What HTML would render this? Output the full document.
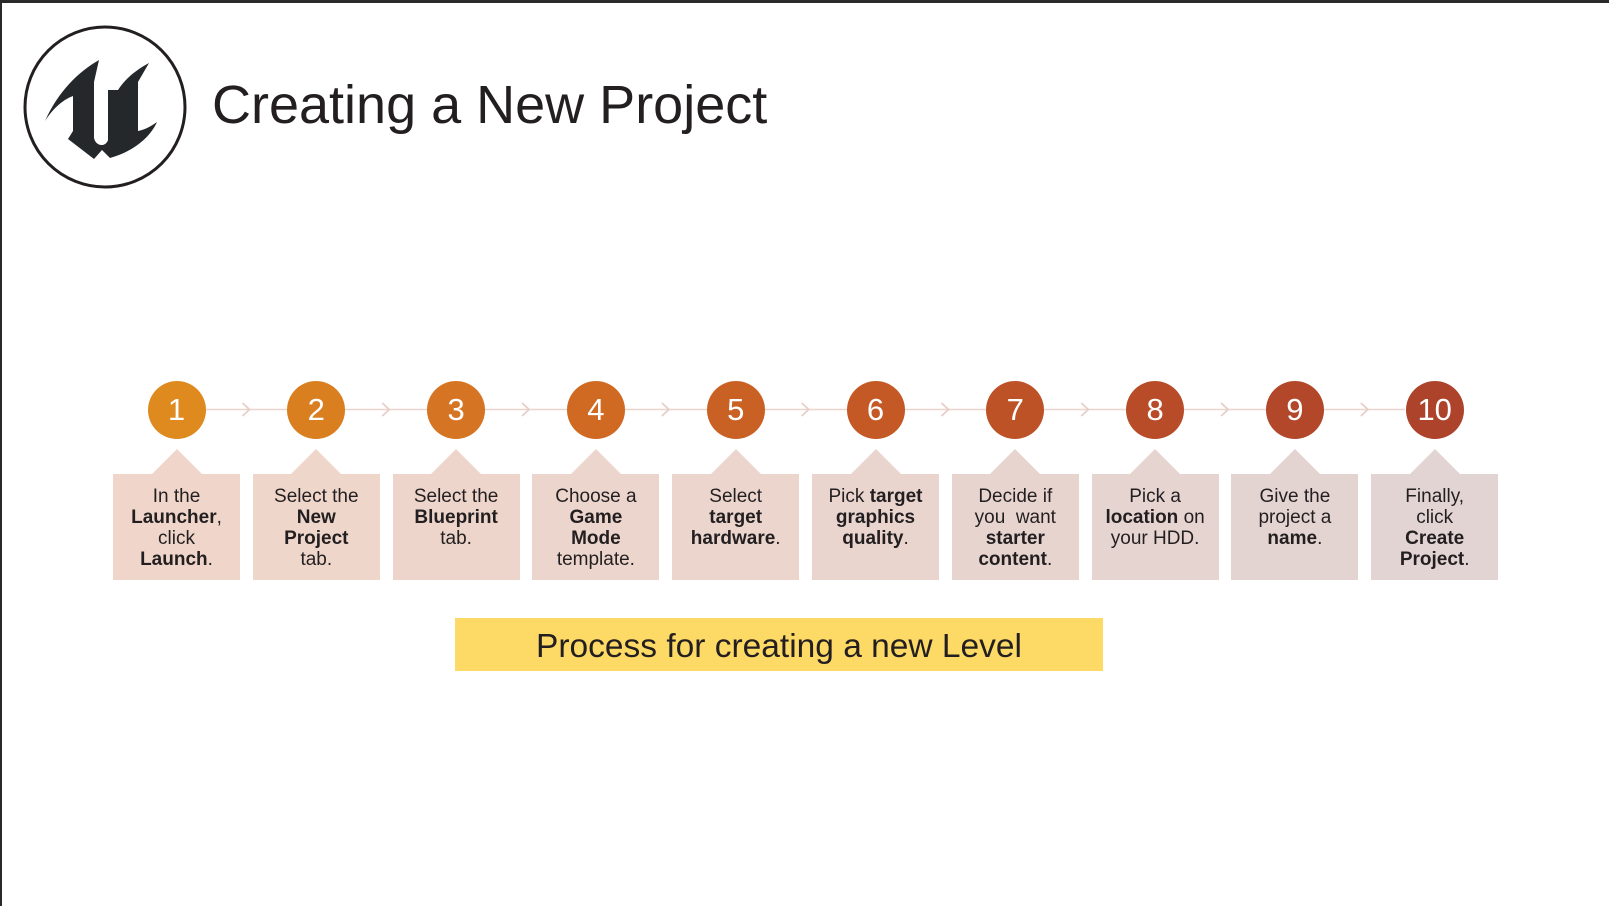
<!DOCTYPE html>
<html><head><meta charset="utf-8"><style>
html,body{margin:0;padding:0;background:#fff}
body{width:1609px;height:906px;position:relative;overflow:hidden;font-family:"Liberation Sans",Arial,sans-serif;color:#231f20}
.bt{position:absolute;left:0;top:0;width:1609px;height:3px;background:#2a2a2a}
.bl{position:absolute;left:0;top:0;width:2px;height:906px;background:#2a2a2a}
.title{position:absolute;left:212px;top:74px;font-size:54px;white-space:nowrap;color:#231f20}
.c{position:absolute;width:58px;height:58px;border-radius:50%;color:#fff;font-size:31px;line-height:58px;text-align:center}
.b{position:absolute;top:474px;width:127px;height:106px;text-align:center;font-size:19px;line-height:21px;padding-top:12px;box-sizing:border-box;color:#231f20}
.b b{font-weight:bold}
.t{position:absolute;top:449px;width:0;height:0;border-left:25px solid transparent;border-right:25px solid transparent}
.banner{position:absolute;left:455px;top:618px;width:648px;height:53px;background:#fdd966;text-align:center;font-size:33.5px;line-height:58px;color:#231f20;white-space:nowrap}
</style></head><body>
<div class="bt"></div><div class="bl"></div>
<svg style="position:absolute;left:0;top:0" width="300" height="200">
<circle cx="105" cy="107" r="80" fill="none" stroke="#231f20" stroke-width="3"/>
<path fill="#25282b" d="M45,121 C58,92 78,72 99,60 L94,82 L94,138 C96,147 106,147 108,140 L108,90 L118,90 C126,78 136,70 149,63 L138,82 L138,131 C144,130 150,127 157,122 C150,138 132,152 110,158 L102,150 L94,159 L68,139 L73,131 L73,96 C62,100 52,110 45,121 Z"/>
</svg>
<div class="title">Creating a New Project</div>
<svg style="position:absolute;left:0;top:0" width="1609" height="460">
<g stroke="#ecd3cc" stroke-width="1.6" fill="none">
<line x1="205" y1="409.5" x2="1405" y2="409.5"/>
</g>
<g stroke="#e6cfc9" stroke-width="1.8" fill="none" id="chev"></g>
</svg>
<div id="root"></div>
<script>
var cols=["#df8a1e","#da7f20","#d57422","#d06a23","#ca6124","#c45926","#be5227","#b84c28","#b2472a","#ad432b"];
var bcols=["#f0d6ca","#efd6cb","#edd5cb","#ecd5cc","#ebd5cd","#e9d4ce","#e8d4cf","#e6d4d0","#e4d4d1","#e2d4d2"];
var txt=["In the<br><b>Launcher</b>,<br>click<br><b>Launch</b>.","Select the<br><b>New<br>Project</b><br>tab.","Select the<br><b>Blueprint</b><br>tab.","Choose a<br><b>Game<br>Mode</b><br>template.","Select<br><b>target<br>hardware</b>.","Pick <b>target<br>graphics<br>quality</b>.","Decide if<br>you &nbsp;want<br><b>starter<br>content</b>.","Pick a<br><b>location</b> on<br>your HDD.","Give the<br>project a<br><b>name</b>.","Finally,<br>click<br><b>Create<br>Project</b>."];
var h="",ch="";
for(var i=0;i<10;i++){
 var cx=176.5+i*139.8;
 if(i<9){var mx=cx+70;ch+='<polyline points="'+(mx-4)+',403 '+(mx+3)+',409.5 '+(mx-4)+',416"/>';}
 h+='<div class="c" style="left:'+(cx-29)+'px;top:381px;background:'+cols[i]+'">'+(i+1)+'</div>';
 h+='<div class="t" style="left:'+(cx-25)+'px;border-bottom:25px solid '+bcols[i]+'"></div>';
 h+='<div class="b" style="left:'+(cx-63.5)+'px;background:'+bcols[i]+'">'+txt[i]+'</div>';
}
document.getElementById("chev").innerHTML=ch;
document.getElementById("root").innerHTML=h;
</script>
<div class="banner">Process for creating a new Level</div>
</body></html>
